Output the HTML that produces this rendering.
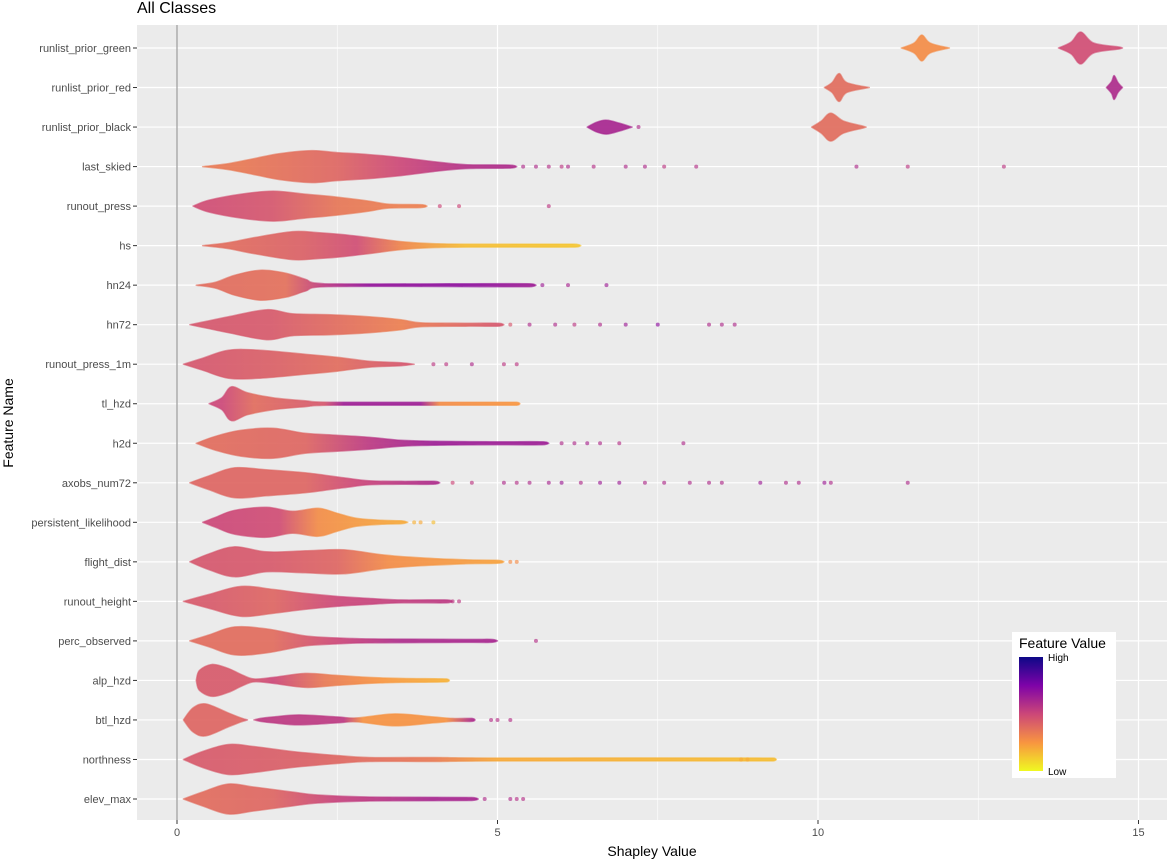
<!DOCTYPE html>
<html><head><meta charset="utf-8"><style>
body{margin:0;background:#fff;font-family:"Liberation Sans",sans-serif}
svg text{font-family:"Liberation Sans",sans-serif}
</style></head><body>
<svg id="chart" width="1167" height="860" xmlns="http://www.w3.org/2000/svg">
<text x="137" y="13" font-size="16" fill="#000">All Classes</text>
<rect x="137" y="25" width="1030" height="795" fill="#ebebeb"/>
<g id="grid"></g>
<g id="marks"></g>
<g id="axes"></g>
<text x="652" y="856" font-size="14" text-anchor="middle" fill="#000">Shapley Value</text>
<text transform="translate(13,423) rotate(-90)" font-size="14" text-anchor="middle" fill="#000">Feature Name</text>
<g>
<rect x="1012" y="632" width="104" height="146" fill="#fff"/>
<text x="1019" y="648" font-size="14" fill="#000">Feature Value</text>
<defs><linearGradient id="lg" x1="0" y1="0" x2="0" y2="1">
<stop offset="0" stop-color="#0d0887"/><stop offset="0.25" stop-color="#7e03a8"/><stop offset="0.5" stop-color="#cc4778"/><stop offset="0.75" stop-color="#f89540"/><stop offset="1" stop-color="#f0f921"/></linearGradient></defs>
<rect x="1019" y="657" width="24" height="114" fill="url(#lg)"/>
<text x="1048" y="661" font-size="10" fill="#000">High</text>
<text x="1048" y="775" font-size="10" fill="#000">Low</text>
</g>
</svg>
<script>
const features=["runlist_prior_green","runlist_prior_red","runlist_prior_black","last_skied","runout_press","hs","hn24","hn72","runout_press_1m","tl_hzd","h2d","axobs_num72","persistent_likelihood","flight_dist","runout_height","perc_observed","alp_hzd","btl_hzd","northness","elev_max"];
const xTicks=[0,5,10,15];
const xMinor=[2.5,7.5,12.5];
// shapes: each shape is list of [shapley, halfHeight]
const shapes=[
[[[11.3,0],[11.5,5],[11.62,13],[11.75,5],[12.05,0]],[[13.75,0],[13.95,6],[14.1,16],[14.3,5],[14.7,1],[14.75,0]]],
[[[10.1,0],[10.22,5],[10.33,14],[10.45,5],[10.8,0]],[[14.5,0],[14.58,6],[14.62,12],[14.68,5],[14.75,0]]],
[[[6.4,0],[6.55,5],[6.7,7],[6.9,4],[7.05,1],[7.1,0]],[[9.9,0],[10.05,6],[10.2,14],[10.4,6],[10.7,1],[10.75,0]]],
[[[0.4,0],[0.8,3],[1.2,8],[1.6,13],[2.1,16],[2.5,14],[3.0,12],[3.5,9],[4.0,5],[4.5,2],[5.2,1.5],[5.3,0]]],
[[[0.25,0],[0.5,6],[1.0,12],[1.5,15],[2.0,12],[2.5,9],[3.0,5],[3.3,2],[3.8,1.5],[3.9,0]]],
[[[0.4,0],[0.8,3],[1.2,8],[1.8,14],[2.2,13],[2.6,11],[3.0,8],[3.5,4],[4.0,2],[4.6,1.5],[6.2,1.5],[6.3,0]]],
[[[0.3,0],[0.6,3],[0.9,10],[1.3,15],[1.7,12],[2.0,6],[2.3,1.5],[5.5,1.5],[5.6,0]]],
[[[0.2,0],[0.5,4],[0.8,8],[1.4,15],[1.8,11],[2.4,10],[3.0,8],[3.5,5],[3.8,2],[4.5,1.5],[5.0,1.5],[5.1,0]]],
[[[0.1,0],[0.4,6],[0.8,14],[1.3,14],[2.0,10],[2.5,7],[3.0,3],[3.5,1.5],[3.7,0]]],
[[[0.5,0],[0.7,6],[0.85,17],[1.1,11],[1.5,6],[2.0,3],[2.4,1.5],[5.3,1.5],[5.35,0]]],
[[[0.3,0],[0.6,7],[1.0,13],[1.5,15],[2.0,10],[2.5,8],[3.0,6],[3.5,3],[4.0,2],[5.0,1.5],[5.7,1.5],[5.8,0]]],
[[[0.2,0],[0.5,7],[0.9,15],[1.4,13],[2.0,10],[2.6,5],[3.0,2],[3.5,1.5],[4.0,1.5],[4.1,0]]],
[[[0.4,0],[0.6,5],[0.9,12],[1.4,15],[1.8,11],[2.2,14],[2.5,9],[2.8,4],[3.2,2],[3.5,1.5],[3.6,0]]],
[[[0.2,0],[0.5,8],[0.9,15],[1.4,10],[2.0,11],[2.6,12],[3.2,7],[3.8,4],[4.5,2],[5.0,1.5],[5.1,0]]],
[[[0.1,0],[0.5,7],[1.0,15],[1.5,12],[2.0,8],[2.5,5],[3.0,3],[3.5,1.5],[4.2,1.5],[4.3,0]]],
[[[0.2,0],[0.5,6],[0.9,14],[1.4,12],[2.0,5],[2.5,3],[3.0,2],[4.5,1.5],[4.9,1.5],[5.0,0]]],
[[[0.3,0],[0.35,10],[0.55,16],[0.8,12],[1.0,6],[1.2,1.5],[1.5,3],[2.0,7],[2.5,5],[3.0,3],[3.5,2],[4.2,1.5],[4.25,0]]],
[[[0.1,0],[0.25,12],[0.45,16],[0.8,7],[1.0,2],[1.1,0]],[[1.2,0],[1.3,1.5],[1.5,3],[1.9,5],[2.5,3],[2.8,2],[3.4,6],[4.0,3],[4.3,1.5],[4.6,1.5],[4.65,0]]],
[[[0.1,0],[0.4,8],[0.8,15],[1.2,13],[1.8,8],[2.5,4],[3.0,2],[4.0,2],[5.0,1.5],[9.3,1.5],[9.35,0]]],
[[[0.1,0],[0.4,7],[0.8,15],[1.2,12],[1.8,7],[2.2,4],[3.0,2],[4.6,1.5],[4.7,0]]]
];
// colour stops: [shapley, plasma t] (0 = high/dark, 1 = low/yellow)
const colorStops=[
[[11.6,0.72],[14.1,0.52]],
[[10.3,0.62],[14.6,0.4]],
[[6.7,0.38],[10.2,0.62]],
[[1,0.66],[2.5,0.6],[3.5,0.5],[4.5,0.42],[5.2,0.4]],
[[0.5,0.52],[1.5,0.55],[2.5,0.65],[3.5,0.68]],
[[0.8,0.62],[2,0.58],[2.8,0.52],[3.5,0.7],[4.5,0.85],[6.2,0.87]],
[[0.6,0.62],[1.7,0.63],[2.3,0.45],[3,0.32],[4.5,0.3],[5.5,0.35]],
[[0.5,0.55],[1.5,0.56],[2.5,0.62],[3.5,0.68],[4.5,0.6],[5,0.55]],
[[0.4,0.55],[1.5,0.58],[2.5,0.62],[3.5,0.55]],
[[0.7,0.5],[1.2,0.62],[2.3,0.55],[2.6,0.35],[3.8,0.35],[4.1,0.72],[5.3,0.75]],
[[0.6,0.62],[2,0.6],[3,0.45],[4,0.35],[5.7,0.35]],
[[0.5,0.6],[2,0.6],[2.8,0.5],[4,0.4]],
[[0.6,0.5],[1.6,0.52],[2.2,0.72],[3.5,0.8]],
[[0.5,0.55],[1.5,0.56],[2.5,0.6],[3.3,0.72],[5,0.78]],
[[0.5,0.56],[1.5,0.6],[2.5,0.5],[4.2,0.45]],
[[0.5,0.62],[1.5,0.62],[2.5,0.5],[3.5,0.4],[4.9,0.38]],
[[0.3,0.56],[1.1,0.56],[1.5,0.5],[2.3,0.66],[3.2,0.75],[4.2,0.82]],
[[0.2,0.6],[1.0,0.6],[1.3,0.45],[2.6,0.45],[2.9,0.74],[4.2,0.74],[4.6,0.4]],
[[0.4,0.56],[2,0.58],[3,0.62],[4,0.66],[5,0.8],[9.3,0.85]],
[[0.4,0.62],[1.5,0.6],[2.5,0.48],[4,0.38],[4.7,0.38]]
];
// outlier points: [shapley, plasma t]
const outliers=[
[],[],[[7.2,0.4]],
[[5.4,0.4],[5.6,0.4],[5.8,0.42],[6.0,0.45],[6.1,0.4],[6.5,0.42],[7.0,0.4],[7.3,0.4],[7.6,0.45],[8.1,0.42],[10.6,0.4],[11.4,0.45],[12.9,0.45]],
[[4.1,0.5],[4.4,0.5],[5.8,0.45]],
[],
[[5.7,0.35],[6.1,0.38],[6.7,0.35]],
[[5.2,0.55],[5.5,0.4],[5.9,0.4],[6.2,0.45],[6.6,0.4],[7.0,0.35],[7.5,0.3],[8.3,0.4],[8.5,0.4],[8.7,0.4]],
[[4.0,0.45],[4.2,0.45],[4.6,0.4],[5.1,0.45],[5.3,0.45]],
[],
[[6.0,0.4],[6.2,0.4],[6.4,0.38],[6.6,0.4],[6.9,0.42],[7.9,0.4]],
[[4.3,0.5],[4.6,0.45],[5.1,0.4],[5.3,0.42],[5.5,0.4],[5.8,0.38],[6.0,0.35],[6.3,0.4],[6.6,0.35],[6.9,0.35],[7.3,0.4],[7.6,0.4],[8.0,0.4],[8.3,0.4],[8.5,0.4],[9.1,0.35],[9.5,0.4],[9.7,0.4],[10.1,0.35],[10.2,0.4],[11.4,0.4]],
[[3.7,0.82],[3.8,0.8],[4.0,0.85]],
[[5.2,0.72],[5.3,0.72]],
[[4.3,0.45],[4.4,0.45]],
[[5.6,0.42]],
[],
[[4.9,0.42],[5.0,0.42],[5.2,0.42]],
[[8.8,0.8],[8.9,0.8]],
[[4.8,0.4],[5.2,0.4],[5.3,0.42],[5.4,0.42]]
];
const NS="http://www.w3.org/2000/svg";
const X0=177,PX=64.1,Y0=48,DY=(799-48)/19;
function sx(v){return X0+v*PX;}
function sy(i){return Y0+i*DY;}
const pl=[[0,[13,8,135]],[0.25,[126,3,168]],[0.5,[204,71,120]],[0.75,[248,149,64]],[1,[240,249,33]]];
function plasma(t){t=Math.max(0,Math.min(1,t));for(let k=0;k<pl.length-1;k++){const a=pl[k],b=pl[k+1];if(t<=b[0]){const f=(t-a[0])/(b[0]-a[0]);const c=a[1].map((v,j)=>Math.round(v+(b[1][j]-v)*f));return "rgb("+c.join(",")+")";}}return "rgb(240,249,33)";}
function mk(tag,attrs,parent){const e=document.createElementNS(NS,tag);for(const k in attrs)e.setAttribute(k,attrs[k]);parent.appendChild(e);return e;}
function clampX(x,a,b){const lo=Math.min(a,b),hi=Math.max(a,b);return Math.max(lo,Math.min(hi,x));}
function smooth(pts){let d='';for(let i=0;i<pts.length-1;i++){const p0=pts[Math.max(0,i-1)],p1=pts[i],p2=pts[i+1],p3=pts[Math.min(pts.length-1,i+2)];
const c1=[clampX(p1[0]+(p2[0]-p0[0])/6,p1[0],p2[0]),p1[1]+(p2[1]-p0[1])/6],c2=[clampX(p2[0]-(p3[0]-p1[0])/6,p1[0],p2[0]),p2[1]-(p3[1]-p1[1])/6];
d+=' C'+c1[0].toFixed(1)+','+c1[1].toFixed(1)+' '+c2[0].toFixed(1)+','+c2[1].toFixed(1)+' '+p2[0].toFixed(1)+','+p2[1].toFixed(1);}return d;}
const grid=document.getElementById('grid'),marks=document.getElementById('marks'),axes=document.getElementById('axes');
const defs=mk('defs',{},marks);
xMinor.forEach(v=>{const l=mk('line',{x1:sx(v),x2:sx(v),y1:25,y2:820,stroke:'#fff','stroke-width':0.6},grid);

});
xTicks.forEach(v=>{const l=mk('line',{x1:sx(v),x2:sx(v),y1:25,y2:820,stroke:'#fff','stroke-width':1.2},grid);


const tk=mk('line',{x1:sx(v),x2:sx(v),y1:820,y2:824,stroke:'#333'},axes);


const t=mk('text',{x:sx(v),y:836,'font-size':11,'text-anchor':'middle',fill:'#4d4d4d'},axes);t.textContent=v;

});
features.forEach((f,i)=>{const y=sy(i);
const l=mk('line',{x1:137,x2:1167,y1:y,y2:y,stroke:'#fff','stroke-width':1.2},grid);


const tk=mk('line',{x1:133,x2:137,y1:y,y2:y,stroke:'#333'},axes);


const t=mk('text',{x:131,y:y+4,'font-size':11,'text-anchor':'end',fill:'#4d4d4d'},axes);t.textContent=f;

});
const zl=mk('line',{x1:sx(0),x2:sx(0),y1:25,y2:820,stroke:'#999','stroke-width':1.2},grid);


features.forEach((f,i)=>{const y=sy(i);
const cs=colorStops[i];
const g=mk('linearGradient',{id:'g'+i,gradientUnits:'userSpaceOnUse',x1:sx(cs[0][0]),x2:sx(cs[cs.length-1][0]),y1:0,y2:0},defs);
const span=cs[cs.length-1][0]-cs[0][0]||1;
cs.forEach(s=>mk('stop',{offset:(s[0]-cs[0][0])/span,'stop-color':plasma(s[1])},g));
shapes[i].forEach((sh,k)=>{
const top=sh.map(p=>[sx(p[0]),y-p[1]]);
const bot=sh.slice().reverse().map(p=>[sx(p[0]),y+p[1]]);
let d='M'+top[0][0].toFixed(1)+','+top[0][1].toFixed(1)+smooth(top)+smooth(bot)+'Z';
const fill=(cs.length===2&&shapes[i].length===2)?plasma(cs[k][1]):'url(#g'+i+')';
const p=mk('path',{d:d,fill:fill,stroke:fill,'stroke-width':1.5,'stroke-linejoin':'round','fill-opacity':0.92,'stroke-opacity':0.6},marks);

});
outliers[i].forEach(o=>{const c=mk('circle',{cx:sx(o[0]),cy:y,r:2,fill:plasma(o[1]),'fill-opacity':0.65},marks);

});
});
</script>
</body></html>
